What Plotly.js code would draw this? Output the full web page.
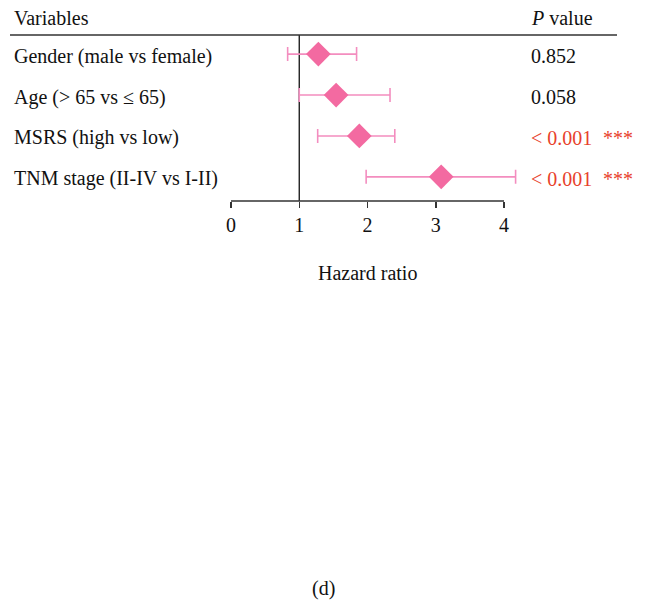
<!DOCTYPE html>
<html>
<head>
<meta charset="utf-8">
<script src="https://cdn.plot.ly/plotly-3.0.1.min.js"></script>
<style>html,body{margin:0;padding:0;background:#fff;}#chart{width:645px;height:604px;}</style>
</head>
<body>
<div id="chart"></div>
<script>
const variables = ["Gender (male vs female)", "Age (> 65 vs \u2264 65)", "MSRS (high vs low)", "TNM stage (II-IV vs I-II)"];
const hazardRatio = [1.28, 1.54, 1.88, 3.08];
const ciLower = [0.83, 1.00, 1.27, 1.98];
const ciUpper = [1.84, 2.33, 2.40, 4.17];
const pValues = ["0.852", "0.058", "< 0.001", "< 0.001"];
const significance = ["", "", "***", "***"];
const xTicks = [0, 1, 2, 3, 4];

const FONT = "Liberation Serif, Times New Roman, serif";
const FS = 20;
const RED = "#e8412c";
const rowIdx = variables.map((_, i) => i);

// axis 0..4 spans px 231..504; extra room on the right so the last error bar is not clipped
const PX_PER_UNIT = (504 - 231) / 4;
const X_MAX = 4.4;
const AXIS_Y = (604 - 201) / 604;
const TOP_Y = 1 - 35 / 604;

const trace = {
  type: "scatter",
  mode: "markers",
  x: hazardRatio,
  y: rowIdx,
  cliponaxis: false,
  marker: {symbol: "diamond", size: 19, color: "#f36aa1"},
  error_x: {
    type: "data",
    symmetric: false,
    array: hazardRatio.map((v, i) => ciUpper[i] - v),
    arrayminus: hazardRatio.map((v, i) => v - ciLower[i]),
    color: "#f38dbf",
    thickness: 1.6,
    width: 7
  },
  hoverinfo: "skip",
  showlegend: false
};

const annotations = [];
variables.forEach((v, i) => {
  annotations.push({xref: "paper", yref: "y", x: 12/645, y: i + 0.05, text: v, showarrow: false,
    xanchor: "left", yanchor: "middle", font: {family: FONT, size: FS, color: "#111"}});
  const sig = significance[i] !== "";
  annotations.push({xref: "paper", yref: "y", x: 529/645, y: i + 0.05, text: pValues[i], showarrow: false,
    xanchor: "left", yanchor: "middle", font: {family: FONT, size: FS, color: sig ? RED : "#111"}});
  if (sig) {
    annotations.push({xref: "paper", yref: "y", x: 601/645, y: i + 0.05, text: significance[i], showarrow: false,
      xanchor: "left", yanchor: "middle", font: {family: FONT, size: FS, color: RED}});
  }
});
annotations.push({xref: "paper", yref: "paper", x: 12/645, y: 1 - 18/604, text: "Variables", showarrow: false,
  xanchor: "left", yanchor: "middle", font: {family: FONT, size: FS, color: "#111"}});
annotations.push({xref: "paper", yref: "paper", x: 529/645, y: 1 - 18/604, text: "<i>P</i> value", showarrow: false,
  xanchor: "left", yanchor: "middle", font: {family: FONT, size: FS, color: "#111"}});
annotations.push({xref: "x", yref: "paper", x: 2, y: 1 - 273/604, text: "Hazard ratio", showarrow: false,
  xanchor: "center", yanchor: "middle", font: {family: FONT, size: FS, color: "#111"}});
annotations.push({xref: "paper", yref: "paper", x: 323/645, y: 1 - 588/604, text: "(d)", showarrow: false,
  xanchor: "center", yanchor: "middle", font: {family: FONT, size: FS, color: "#111"}});

const layout = {
  width: 645, height: 604,
  margin: {l: 0, r: 0, t: 0, b: 0},
  paper_bgcolor: "#fff", plot_bgcolor: "rgba(0,0,0,0)",
  xaxis: {
    domain: [231/645, (231 + X_MAX * PX_PER_UNIT)/645],
    range: [0, X_MAX],
    tickvals: xTicks,
    ticktext: xTicks.map(String),
    showgrid: false, zeroline: false,
    showline: false,
    ticks: "outside", ticklen: 6, tickwidth: 1.5, tickcolor: "#333",
    tickfont: {family: FONT, size: FS, color: "#111"},
    automargin: false, fixedrange: true
  },
  yaxis: {
    domain: [AXIS_Y, TOP_Y],
    range: [3.59, -0.467],
    showgrid: false, zeroline: false, showline: false,
    showticklabels: false, ticks: "",
    automargin: false, fixedrange: true
  },
  shapes: [
    {type: "line", xref: "paper", yref: "paper", x0: 10/645, x1: 617/645, y0: TOP_Y, y1: TOP_Y,
     line: {color: "#333", width: 1.5}},
    {type: "line", xref: "x", yref: "paper", x0: 1, x1: 1, y0: AXIS_Y, y1: TOP_Y,
     line: {color: "#111", width: 1.3}, layer: "below"},
    {type: "line", xref: "x", yref: "paper", x0: xTicks[0], x1: xTicks[xTicks.length - 1], y0: AXIS_Y, y1: AXIS_Y,
     line: {color: "#333", width: 1.5}}
  ],
  annotations: annotations
};

Plotly.newPlot("chart", [trace], layout, {displayModeBar: false, staticPlot: true});
</script>
</body>
</html>
